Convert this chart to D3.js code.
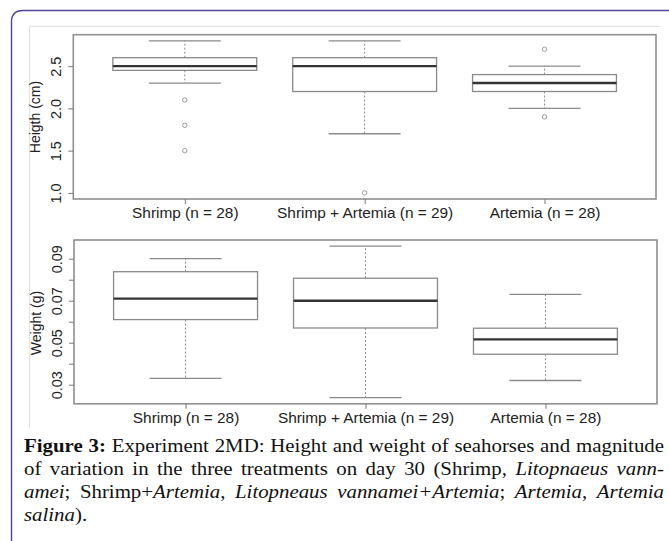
<!DOCTYPE html>
<html>
<head>
<meta charset="utf-8">
<script src="https://cdn.jsdelivr.net/npm/d3@7"></script>
<style>
  html, body { margin: 0; padding: 0; background: #fff; }
  body { width: 669px; height: 541px; position: relative; overflow: hidden; }
  svg { position: absolute; left: 0; top: 0; }
  #caption { position: absolute; left: 24px; top: 435px; width: 640px;
    font-family: "Liberation Serif", "Times New Roman", serif; font-size: 18.5px;
    line-height: 23px; color: #111; }
  #caption .ln { white-space: nowrap; transform-origin: 0 0; }
  #caption .ln.just { text-align: justify; text-align-last: justify; }
  #caption .ln.last { text-align: left; text-align-last: left; }
</style>
</head>
<body>
<svg id="chart" width="669" height="541"></svg>
<div id="caption">
  <div class="ln just"><b>Figure 3:</b> Experiment 2MD: Height and weight of seahorses and magnitude</div>
  <div class="ln just">of variation in the three treatments on day 30 (Shrimp, <i>Litopnaeus vann-</i></div>
  <div class="ln just"><i>amei</i>; Shrimp+<i>Artemia</i>, <i>Litopneaus vannamei+Artemia</i>; <i>Artemia</i>, <i>Artemia</i></div>
  <div class="ln last"><i>salina</i>).</div>
</div>
<script>
// ---- data ----
const categories = ["Shrimp (n = 28)", "Shrimp + Artemia (n = 29)", "Artemia (n = 28)"];

const heightLow  = [2.30, 1.70, 2.00];
const heightQ1   = [2.45, 2.20, 2.20];
const heightMed  = [2.50, 2.50, 2.30];
const heightQ3   = [2.60, 2.60, 2.40];
const heightHigh = [2.80, 2.80, 2.50];
const heightOutliers = [[2.1, 1.8, 1.5], [1.0], [2.7, 1.9]];
const heightTicks = [1.0, 1.5, 2.0, 2.5];
const heightTickLabels = ["1.0", "1.5", "2.0", "2.5"];

const weightLow  = [0.0330, 0.0238, 0.0320];
const weightQ1   = [0.0610, 0.0570, 0.0445];
const weightMed  = [0.0710, 0.0700, 0.0516];
const weightQ3   = [0.0838, 0.0807, 0.0569];
const weightHigh = [0.0900, 0.0960, 0.0730];
const weightOutliers = [[], [], []];
const weightTicks = [0.03, 0.04, 0.05, 0.06, 0.07, 0.08, 0.09];
const weightTickLabels = ["0.03", "", "0.05", "", "0.07", "", "0.09"];

const svg = d3.select("#chart");
const SANS = "Liberation Sans, Arial, sans-serif";

// page frame
svg.append("path")
  .attr("d", "M11.5,541 L11.5,22 Q11.5,10.5 23,10.5 L669,10.5")
  .attr("fill", "none").attr("stroke", "#4f4592").attr("stroke-width", 1.4);
svg.append("path")
  .attr("d", "M29.5,428 L29.5,26.5 L660,26.5")
  .attr("fill", "none").attr("stroke", "#e2e2e2").attr("stroke-width", 1);

function panel(cfg) {
  const g = svg.append("g");
  const x = d3.scaleLinear().domain([0.38, 3.62]).range([cfg.left, cfg.right]);
  const y = d3.scaleLinear().domain(cfg.domain).range([cfg.bottom, cfg.top]);
  const bw = 0.8, cw = 0.4;
  const stroke = "#8a8a8a";

  const data = categories.map((c, i) => ({
    c, i: i + 1, lo: cfg.low[i], q1: cfg.q1[i], med: cfg.med[i], q3: cfg.q3[i], hi: cfg.high[i], out: cfg.out[i]
  }));

  const b = g.selectAll("g.box").data(data).join("g").attr("class", "box");
  b.append("line").attr("x1", d => x(d.i)).attr("x2", d => x(d.i))
    .attr("y1", d => y(d.q3)).attr("y2", d => y(d.hi))
    .attr("stroke", stroke).attr("stroke-width", 1).attr("stroke-dasharray", "2,2");
  b.append("line").attr("x1", d => x(d.i)).attr("x2", d => x(d.i))
    .attr("y1", d => y(d.q1)).attr("y2", d => y(d.lo))
    .attr("stroke", stroke).attr("stroke-width", 1).attr("stroke-dasharray", "2,2");
  b.append("line").attr("x1", d => x(d.i - cw / 2)).attr("x2", d => x(d.i + cw / 2))
    .attr("y1", d => y(d.hi)).attr("y2", d => y(d.hi))
    .attr("stroke", stroke).attr("stroke-width", 1.3);
  b.append("line").attr("x1", d => x(d.i - cw / 2)).attr("x2", d => x(d.i + cw / 2))
    .attr("y1", d => y(d.lo)).attr("y2", d => y(d.lo))
    .attr("stroke", stroke).attr("stroke-width", 1.3);
  b.append("rect").attr("x", d => x(d.i - bw / 2)).attr("width", d => x(d.i + bw / 2) - x(d.i - bw / 2))
    .attr("y", d => y(d.q3)).attr("height", d => y(d.q1) - y(d.q3))
    .attr("fill", "#fff").attr("stroke", stroke).attr("stroke-width", 1.3);
  b.append("line").attr("x1", d => x(d.i - bw / 2)).attr("x2", d => x(d.i + bw / 2))
    .attr("y1", d => y(d.med)).attr("y2", d => y(d.med))
    .attr("stroke", "#333").attr("stroke-width", 2.4);
  b.selectAll("circle").data(d => d.out.map(v => ({ i: d.i, v }))).join("circle")
    .attr("cx", d => x(d.i)).attr("cy", d => y(d.v)).attr("r", 2.2)
    .attr("fill", "none").attr("stroke", "#999").attr("stroke-width", 1);

  g.append("rect").attr("x", cfg.left).attr("y", cfg.top)
    .attr("width", cfg.right - cfg.left).attr("height", cfg.bottom - cfg.top)
    .attr("fill", "none").attr("stroke", "#8f8f8f").attr("stroke-width", 1.6);

  // y axis
  const yAxis = d3.axisLeft(y).tickValues(cfg.ticks).tickSize(5)
    .tickFormat((d, i) => cfg.tickLabels[i]);
  const ya = g.append("g").attr("transform", `translate(${cfg.left},0)`).call(yAxis);
  ya.select(".domain").remove();
  ya.selectAll(".tick line").attr("stroke", "#777");
  ya.selectAll(".tick text")
    .attr("transform", "rotate(-90, -12, 0)")
    .attr("x", -12).attr("y", 0).attr("dy", 0)
    .attr("text-anchor", "middle")
    .style("font-family", SANS).style("font-size", "14.5px").attr("fill", "#222");

  // y title
  g.append("text").attr("transform", `translate(${cfg.titleX},${cfg.titleY}) rotate(-90)`)
    .attr("text-anchor", "middle")
    .style("font-family", SANS).style("font-size", "14px").attr("fill", "#222")
    .text(cfg.title);

  // x axis
  const xAxis = d3.axisBottom(x).tickValues([1, 2, 3]).tickSize(5).tickPadding(4)
    .tickFormat((d, i) => categories[i]);
  const xa = g.append("g").attr("transform", `translate(0,${cfg.bottom})`).call(xAxis);
  xa.select(".domain").remove();
  xa.selectAll(".tick line").attr("stroke", "#777");
  xa.selectAll(".tick text")
    .attr("transform", "scale(1.1,1)")
    .style("font-family", SANS).style("font-size", "14px").attr("fill", "#222");
}

panel({
  left: 73.3, right: 656, top: 34.7, bottom: 199,
  domain: [0.928, 2.872],
  low: heightLow, q1: heightQ1, med: heightMed, q3: heightQ3, high: heightHigh, out: heightOutliers,
  ticks: heightTicks, tickLabels: heightTickLabels,
  title: "Heigth (cm)", titleX: 40, titleY: 117
});

panel({
  left: 74, right: 657, top: 240, bottom: 403.8,
  domain: [0.0209, 0.0989],
  low: weightLow, q1: weightQ1, med: weightMed, q3: weightQ3, high: weightHigh, out: weightOutliers,
  ticks: weightTicks, tickLabels: weightTickLabels,
  title: "Weight (g)", titleX: 41, titleY: 323
});

// caption: measure natural widths (unjustified) and stretch horizontally to fill the column
(function () {
  const target = 640;
  const lines = Array.from(document.querySelectorAll("#caption .ln"));
  let maxW = 0;
  lines.forEach(l => {
    if (!l.classList.contains("just")) return;
    const s = document.createElement("span");
    s.style.whiteSpace = "nowrap";
    s.style.display = "inline-block";
    s.style.textAlignLast = "left";
    s.innerHTML = l.innerHTML;
    document.body.appendChild(s);
    s.style.position = "absolute";
    s.style.fontFamily = getComputedStyle(l).fontFamily;
    s.style.fontSize = getComputedStyle(l).fontSize;
    maxW = Math.max(maxW, s.getBoundingClientRect().width);
    s.remove();
  });
  const sx = Math.min(1.15, Math.max(1, (target - 6) / maxW));
  lines.forEach(l => {
    l.style.width = (target / sx) + "px";
    l.style.transform = `scaleX(${sx})`;
  });
})();
</script>
</body>
</html>
